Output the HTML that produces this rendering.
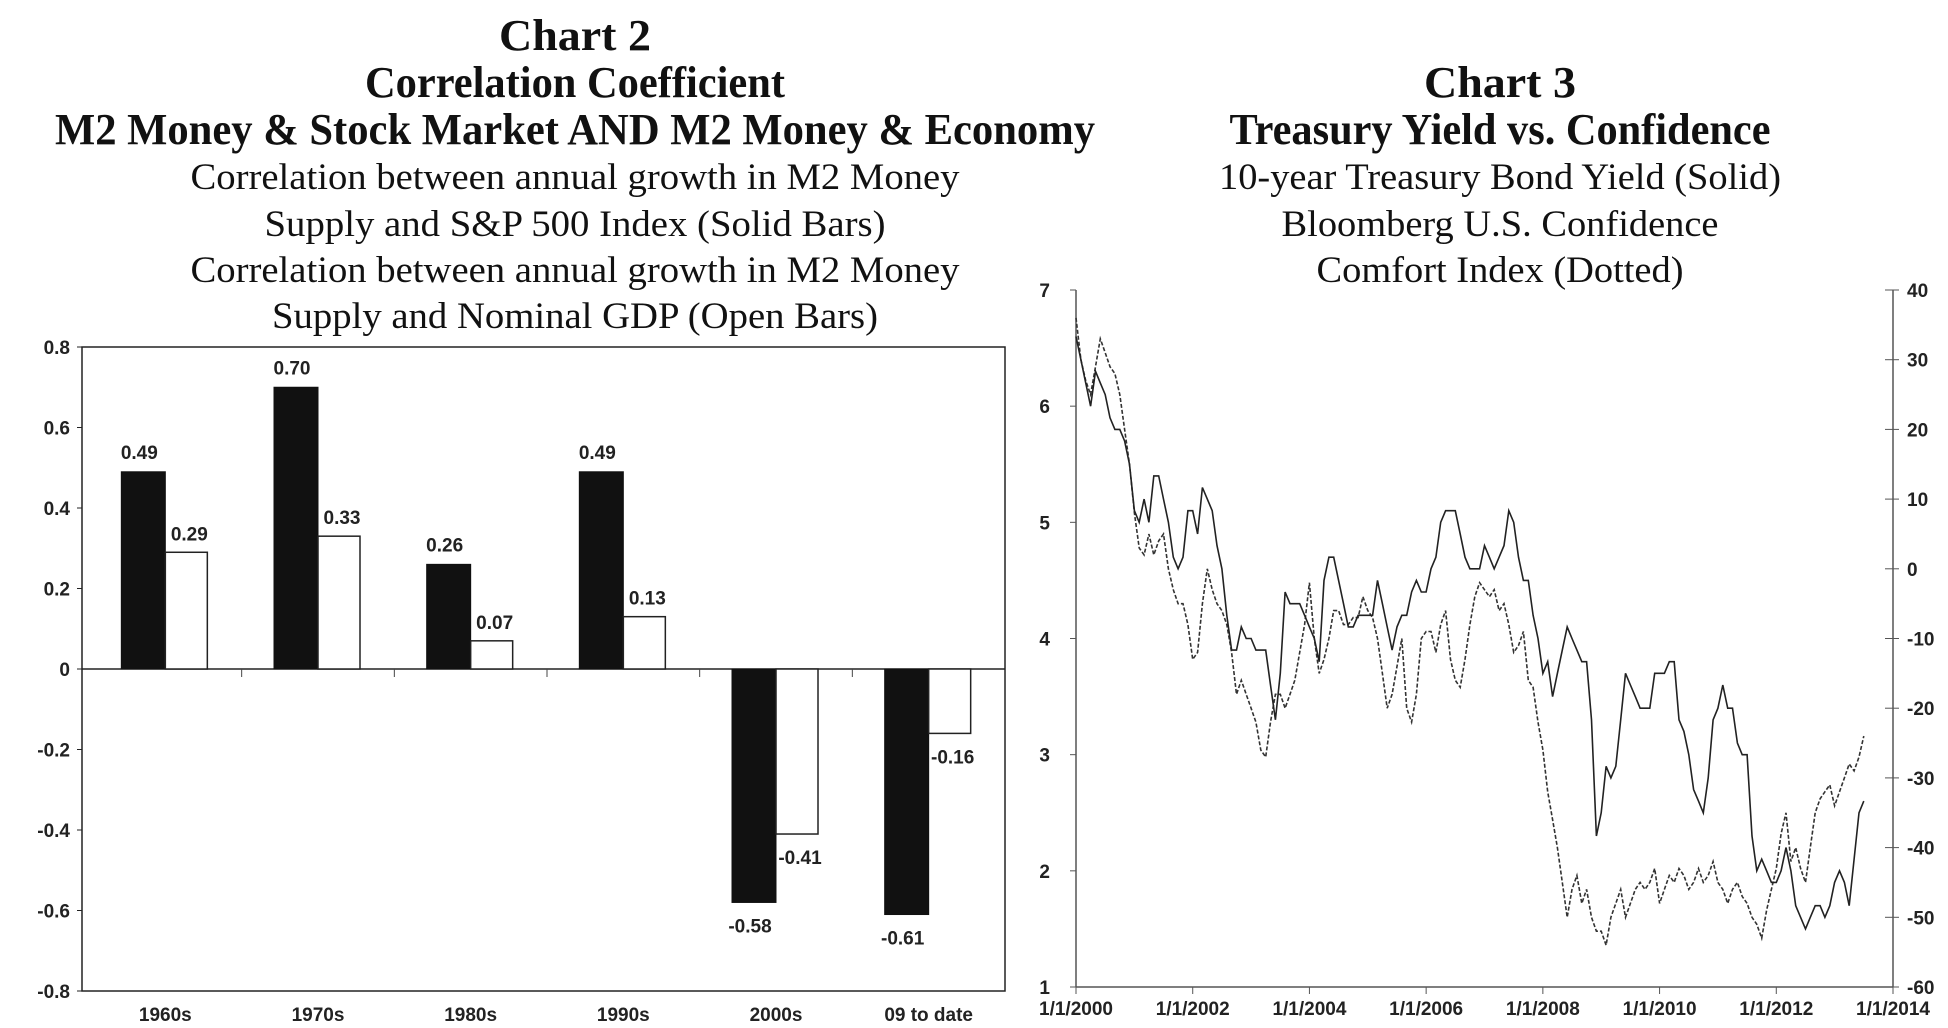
<!DOCTYPE html>
<html><head><meta charset="utf-8"><style>
html,body{margin:0;padding:0;background:#fff;overflow:hidden;}
svg{display:block;}
.tb{font-family:"Liberation Serif",serif;font-weight:bold;font-size:44px;fill:#111;}
.tr{font-family:"Liberation Serif",serif;font-size:37px;fill:#111;}
.ax{font-family:"Liberation Sans",sans-serif;font-weight:bold;font-size:19px;fill:#222;}
</style></head><body>
<svg id="s" width="1948" height="1028" viewBox="0 0 1948 1028" xmlns="http://www.w3.org/2000/svg">
<g>
<text class="tb" x="575" y="50" text-anchor="middle" textLength="152" lengthAdjust="spacingAndGlyphs">Chart 2</text>
<text class="tb" x="575" y="97" text-anchor="middle" textLength="420" lengthAdjust="spacingAndGlyphs">Correlation Coefficient</text>
<text class="tb" x="575" y="144" text-anchor="middle" textLength="1040" lengthAdjust="spacingAndGlyphs">M2 Money &amp; Stock Market AND M2 Money &amp; Economy</text>
<text class="tr" x="575" y="189" text-anchor="middle" textLength="769" lengthAdjust="spacingAndGlyphs">Correlation between annual growth in M2 Money</text>
<text class="tr" x="575" y="236" text-anchor="middle" textLength="621" lengthAdjust="spacingAndGlyphs">Supply and S&amp;P 500 Index (Solid Bars)</text>
<text class="tr" x="575" y="282" text-anchor="middle" textLength="769" lengthAdjust="spacingAndGlyphs">Correlation between annual growth in M2 Money</text>
<text class="tr" x="575" y="328" text-anchor="middle" textLength="606" lengthAdjust="spacingAndGlyphs">Supply and Nominal GDP (Open Bars)</text>
</g>
<g>
<text class="tb" x="1500" y="97" text-anchor="middle" textLength="152" lengthAdjust="spacingAndGlyphs">Chart 3</text>
<text class="tb" x="1500" y="144" text-anchor="middle" textLength="541" lengthAdjust="spacingAndGlyphs">Treasury Yield vs. Confidence</text>
<text class="tr" x="1500" y="189" text-anchor="middle" textLength="562" lengthAdjust="spacingAndGlyphs">10-year Treasury Bond Yield (Solid)</text>
<text class="tr" x="1500" y="236" text-anchor="middle" textLength="437" lengthAdjust="spacingAndGlyphs">Bloomberg U.S. Confidence</text>
<text class="tr" x="1500" y="282" text-anchor="middle" textLength="367" lengthAdjust="spacingAndGlyphs">Comfort Index (Dotted)</text>
</g>
<g id="bars"></g>
<g id="lines"></g>
</svg>
<script>
const categories = ["1960s","1970s","1980s","1990s","2000s","09 to date"];
const spValues = [0.49,0.70,0.26,0.49,-0.58,-0.61];
const gdpValues = [0.29,0.33,0.07,0.13,-0.41,-0.16];
const barTicks = ["0.8","0.6","0.4","0.2","0","-0.2","-0.4","-0.6","-0.8"];

const yieldValues = [
6.6,6.4,6.2,6.0,6.3,6.2,6.1,5.9,5.8,5.8,5.7,5.5,
5.1,5.0,5.2,5.0,5.4,5.4,5.2,5.0,4.7,4.6,4.7,5.1,
5.1,4.9,5.3,5.2,5.1,4.8,4.6,4.2,3.9,3.9,4.1,4.0,
4.0,3.9,3.9,3.9,3.6,3.3,3.7,4.4,4.3,4.3,4.3,4.2,
4.1,4.0,3.8,4.5,4.7,4.7,4.5,4.3,4.1,4.1,4.2,4.2,
4.2,4.2,4.5,4.3,4.1,3.9,4.1,4.2,4.2,4.4,4.5,4.4,
4.4,4.6,4.7,5.0,5.1,5.1,5.1,4.9,4.7,4.6,4.6,4.6,
4.8,4.7,4.6,4.7,4.8,5.1,5.0,4.7,4.5,4.5,4.2,4.0,
3.7,3.8,3.5,3.7,3.9,4.1,4.0,3.9,3.8,3.8,3.3,2.3,
2.5,2.9,2.8,2.9,3.3,3.7,3.6,3.5,3.4,3.4,3.4,3.7,
3.7,3.7,3.8,3.8,3.3,3.2,3.0,2.7,2.6,2.5,2.8,3.3,
3.4,3.6,3.4,3.4,3.1,3.0,3.0,2.3,2.0,2.1,2.0,1.9,
1.9,2.0,2.2,2.0,1.7,1.6,1.5,1.6,1.7,1.7,1.6,1.7,
1.9,2.0,1.9,1.7,2.1,2.5,2.6];
const confidenceValues = [
36,30,27,25,29,33,31,29,28,25,20,15,
8,3,2,5,2,4,5,0,-3,-5,-5,-8,
-13,-12,-5,0,-3,-5,-6,-8,-12,-18,-16,-18,
-20,-22,-26,-27,-22,-18,-18,-20,-18,-16,-12,-8,
-2,-10,-15,-13,-10,-6,-6,-8,-8,-7,-7,-4,
-6,-7,-10,-15,-20,-18,-14,-10,-20,-22,-18,-10,
-9,-9,-12,-8,-6,-13,-16,-17,-13,-8,-4,-2,
-3,-4,-3,-6,-5,-8,-12,-11,-9,-16,-17,-22,
-26,-32,-36,-40,-45,-50,-46,-44,-48,-46,-50,-52,
-52,-54,-50,-48,-46,-50,-48,-46,-45,-46,-45,-43,
-48,-46,-44,-45,-43,-44,-46,-45,-43,-45,-44,-42,
-45,-46,-48,-46,-45,-47,-48,-50,-51,-53,-49,-46,
-43,-38,-35,-42,-40,-43,-45,-40,-35,-33,-32,-31,
-34,-32,-30,-28,-29,-27,-24];
const leftTicks = ["7","6","5","4","3","2","1"];
const rightTicks = ["40","30","20","10","0","-10","-20","-30","-40","-50","-60"];
const xTickLabels = ["1/1/2000","1/1/2002","1/1/2004","1/1/2006","1/1/2008","1/1/2010","1/1/2012","1/1/2014"];

const NS="http://www.w3.org/2000/svg";
function mk(parent,tag,attrs,txt){const e=document.createElementNS(NS,tag);for(const k in attrs)e.setAttribute(k,attrs[k]);if(txt!==undefined)e.textContent=txt;parent.appendChild(e);return e;}

// Bar chart
const bg=document.getElementById('bars');
const bL=82,bR=1005,bT=347,bB=991,catW=(bR-bL-7)/6,cat0=89;
const by=v=>bT+(0.8-v)/1.6*(bB-bT);
const frame=mk(bg,'rect',{x:bL,y:bT,width:bR-bL,height:bB-bT,fill:'none',stroke:'#222','stroke-width':1.5});


barTicks.forEach((t,i)=>{const v=parseFloat(t);const y=by(v);
 const tl=mk(bg,'text',{x:bL-12,y:y+7,'text-anchor':'end',class:'ax'},t);
 
 
 mk(bg,'line',{x1:bL-5,x2:bL,y1:y,y2:y,stroke:'#222'});});
const zl=mk(bg,'line',{x1:bL,x2:bR,y1:by(0),y2:by(0),stroke:'#222','stroke-width':1.5});


categories.forEach((c,i)=>{
 const cx=cat0+catW*(i+0.5);
 if(i>0) mk(bg,'line',{x1:cat0+catW*i,x2:cat0+catW*i,y1:by(0),y2:by(0)+8,stroke:'#444'});
 const cl=mk(bg,'text',{x:cx,y:bB+30,'text-anchor':'middle',class:'ax'},c);
 
 
 const w=44;
 const s=spValues[i],g=gdpValues[i];
 const r1=mk(bg,'rect',{x:cx-w,y:Math.min(by(s),by(0)),width:w,height:Math.abs(by(s)-by(0)),fill:'#111',stroke:'#111'});
 
 
 const r2=mk(bg,'rect',{x:cx,y:Math.min(by(g),by(0)),width:w-2,height:Math.abs(by(g)-by(0)),fill:'#fff',stroke:'#222','stroke-width':1.5});
 
 
 const l1=mk(bg,'text',{x:cx-w/2-4,y:s>=0?by(s)-13:by(s)+30,'text-anchor':'middle',class:'ax'},s.toFixed(2));
 
 
 const l2=mk(bg,'text',{x:cx+w/2+2,y:g>=0?by(g)-12:by(g)+30,'text-anchor':'middle',class:'ax'},g.toFixed(2));
 
 
});

// Line chart
const lg=document.getElementById('lines');
const xL=1076,xR=1893,yT=290,yB=987;
const xs=m=>xL+m/(14*12)*(xR-xL);
const yl=v=>yT+(7-v)/6*(yB-yT);
const yr=v=>yT+(40-v)/100*(yB-yT);
mk(lg,'line',{x1:xL,x2:xL,y1:yT,y2:yB,stroke:'#555','stroke-width':1.5});
mk(lg,'line',{x1:xR,x2:xR,y1:yT,y2:yB,stroke:'#555','stroke-width':1.5});
mk(lg,'line',{x1:xL,x2:xR,y1:yB,y2:yB,stroke:'#555','stroke-width':1.5});
leftTicks.forEach(t=>{const y=yl(parseFloat(t));
 mk(lg,'line',{x1:xL-6,x2:xL,y1:y,y2:y,stroke:'#555'});
 const e=mk(lg,'text',{x:xL-26,y:y+7,'text-anchor':'end',class:'ax'},t);
 
 });
rightTicks.forEach(t=>{const y=yr(parseFloat(t));
 mk(lg,'line',{x1:xR-8,x2:xR+6,y1:y,y2:y,stroke:'#555'});
 const e=mk(lg,'text',{x:xR+14,y:y+7,'text-anchor':'start',class:'ax'},t);
 
 });
xTickLabels.forEach((t,i)=>{const x=xs(i*24);
 mk(lg,'line',{x1:x,x2:x,y1:yB,y2:yB+7,stroke:'#555'});
 const e=mk(lg,'text',{x:x,y:yB+28,'text-anchor':'middle',class:'ax'},t);
 
 });
const dc=confidenceValues.map((v,i)=>(i?'L':'M')+xs(i).toFixed(1)+','+yr(v).toFixed(1)).join('');
const cp=mk(lg,'path',{d:dc,fill:'none',stroke:'#333','stroke-width':1.6,'stroke-dasharray':'4,2'});


const dy=yieldValues.map((v,i)=>(i?'L':'M')+xs(i).toFixed(1)+','+yl(v).toFixed(1)).join('');
const yp=mk(lg,'path',{d:dy,fill:'none',stroke:'#222','stroke-width':1.6});


</script>
</body></html>
